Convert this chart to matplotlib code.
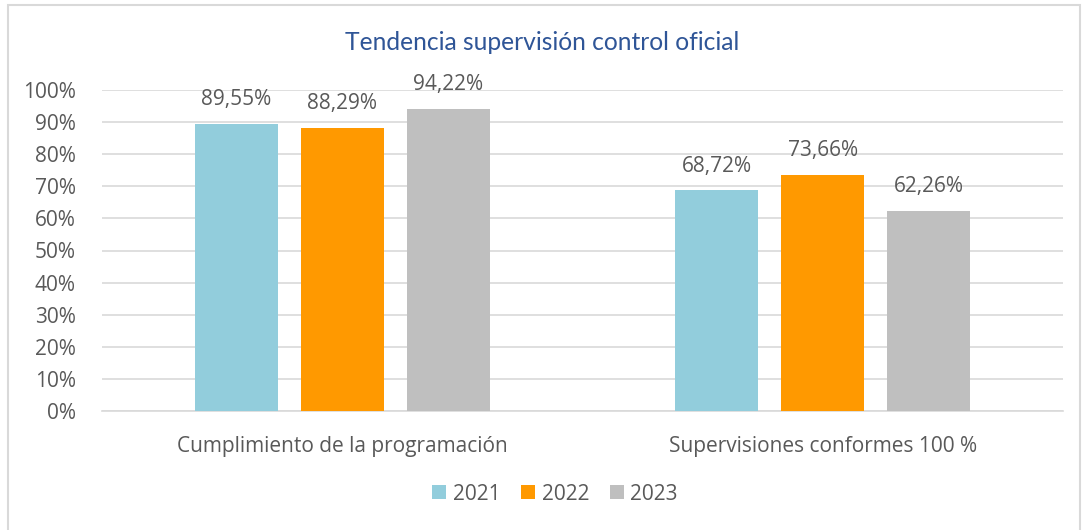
import matplotlib
matplotlib.use("Agg")
import matplotlib.pyplot as plt
from matplotlib.patches import Rectangle
import numpy as np

categories = ["Cumplimiento de la programación", "Supervisiones conformes 100 %"]
years = ["2021", "2022", "2023"]
values_2021 = [89.55, 68.72]
values_2022 = [88.29, 73.66]
values_2023 = [94.22, 62.26]
series = [values_2021, values_2022, values_2023]
colors = ["#92CDDC", "#FF9900", "#BFBFBF"]
yticks = [0, 10, 20, 30, 40, 50, 60, 70, 80, 90, 100]

plt.rcParams['font.family'] = ['Open Sans', 'DejaVu Sans']
txt = "#595959"
fs = 15

fig = plt.figure(figsize=(10.84, 5.30), dpi=100)
# outer border
fig.add_artist(Rectangle((8/1084, -0.05), (1080-8)/1084, 1 - 5/530 + 0.05,
                         transform=fig.transFigure, fill=False,
                         edgecolor="#D9D9D9", linewidth=1.5))

ax = fig.add_axes([102/1084, 1 - 411/530, (1063-102)/1084, (411-90)/530])
x = np.arange(len(categories))
w = 0.173
step = 0.2206
for i, (vals, c) in enumerate(zip(series, colors)):
    bars = ax.bar(x + (i - 1) * step, vals, width=w, color=c, label=years[i], zorder=3)
    for b, v in zip(bars, vals):
        ax.text(b.get_x() + b.get_width() / 2, v + 7.6,
                f"{v:.2f}%".replace(".", ","), ha="center", va="center",
                fontsize=fs, color=txt)

ax.set_xlim(-0.5, 1.5)
ax.set_ylim(0, 100)
ax.set_yticks(yticks)
ax.set_yticklabels([f"{t}%" for t in yticks], fontsize=fs, color=txt)
ax.set_xticks(x)
ax.set_xticklabels(categories, fontsize=fs, color=txt)
ax.tick_params(axis="both", length=0)
ax.tick_params(axis="x", pad=18)
ax.tick_params(axis="y", pad=19)
ax.grid(axis="y", color="#D9D9D9", linewidth=1.2, zorder=0)
for s in ["top", "right", "left"]:
    ax.spines[s].set_visible(False)
ax.spines["bottom"].set_color("#D9D9D9")
ax.spines["bottom"].set_linewidth(1.2)

fig.text(0.5, 1 - 42/530, "Tendencia supervisión control oficial", ha="center", va="center",
         fontsize=17.7, color="#2F5597", family=['Lato', 'DejaVu Sans'])

handles, labels = ax.get_legend_handles_labels()
fig.legend(handles, labels, loc="center", bbox_to_anchor=(555/1084, 1 - 494/530), ncol=3,
           frameon=False, fontsize=fs, labelcolor=txt, handlelength=0.68, handleheight=0.68,
           columnspacing=1.0, handletextpad=0.3, borderpad=0, borderaxespad=0)

fig.savefig("out.png", dpi=100)
